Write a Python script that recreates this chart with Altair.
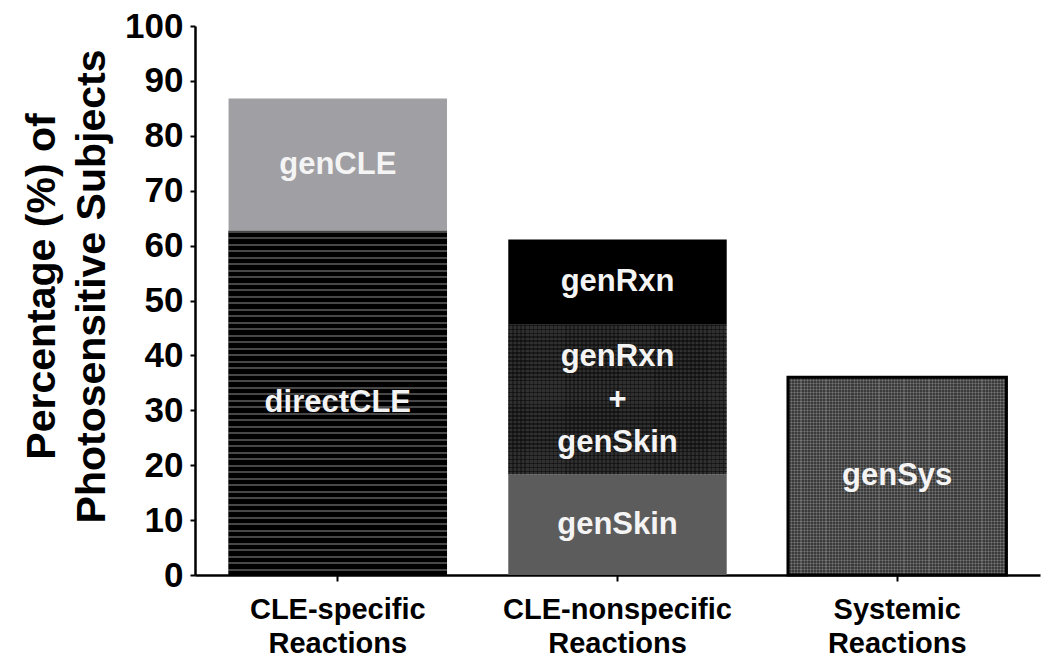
import altair as alt
import pandas as pd

# ---------------- data ----------------
categories = ["CLE-specific Reactions", "CLE-nonspecific Reactions", "Systemic Reactions"]
segment_category = [
    "CLE-specific Reactions", "CLE-specific Reactions",
    "CLE-nonspecific Reactions", "CLE-nonspecific Reactions", "CLE-nonspecific Reactions",
    "Systemic Reactions",
]
segment_name = ["directCLE", "genCLE", "genSkin", "genRxn + genSkin", "genRxn", "genSys"]
segment_label = ["directCLE", "genCLE", "genSkin", "genRxn\n+\ngenSkin", "genRxn", "genSys"]
segment_start = [0.0, 62.7, 0.0, 18.3, 45.6, 0.0]
segment_end = [62.7, 86.8, 18.3, 45.6, 61.1, 36.0]
y_ticks = [0, 10, 20, 30, 40, 50, 60, 70, 80, 90, 100]

# ---------------- styles ----------------
segment_colors = ["#000000", "#a0a0a4", "#5c5c5c", "#303030", "#000000", "#3a3a3a"]
FONT = "Liberation Sans"

df = pd.DataFrame({
    "category": segment_category,
    "segment": segment_name,
    "label": segment_label,
    "start": segment_start,
    "end": segment_end,
})


def stripes(n, duty, on, off, vertical=False):
    stops = []
    for i in range(n):
        a = i / n
        b = (i + duty) / n
        c = (i + 1) / n
        stops += [
            alt.GradientStop(offset=round(a, 5), color=on),
            alt.GradientStop(offset=round(b, 5), color=on),
            alt.GradientStop(offset=round(b, 5), color=off),
            alt.GradientStop(offset=round(c, 5), color=off),
        ]
    if vertical:
        return alt.LinearGradient(gradient="linear", stops=stops, x1=0, y1=0, x2=1, y2=0)
    return alt.LinearGradient(gradient="linear", stops=stops, x1=0, y1=0, x2=0, y2=1)


x_enc = alt.X(
    "category:N",
    sort=categories,
    scale=alt.Scale(domain=categories, paddingInner=0.219, paddingOuter=0.12),
    axis=alt.Axis(
        title=None,
        labelExpr="split(datum.label, ' ')",
        labelAngle=0,
        labelLimit=0,
        labelFont=FONT,
        labelFontSize=29,
        labelFontWeight="bold",
        labelColor="#000000",
        labelLineHeight=34,
        labelBaseline="top",
        labelPadding=14,
        tickSize=6,
        tickWidth=2,
        tickColor="#000000",
        domainColor="#000000",
        domainWidth=2.5,
        grid=False,
    ),
)

y_enc = alt.Y(
    "start:Q",
    scale=alt.Scale(domain=[0, 100], nice=False),
    axis=alt.Axis(
        values=y_ticks,
        title=["Percentage (%) of", "Photosensitive Subjects"],
        titleFont=FONT,
        titleFontSize=41,
        titleFontWeight="bold",
        titleColor="#000000",
        titleAngle=-90,
        titleAlign="center",
        titleBaseline="middle",
        titleLineHeight=50,
        titleX=-153,
        titleY=260,
        labelFont=FONT,
        labelFontSize=35,
        labelFontWeight="bold",
        labelColor="#000000",
        labelPadding=7,
        tickSize=5,
        tickWidth=2,
        tickColor="#000000",
        domainColor="#000000",
        domainWidth=2.5,
        grid=False,
    ),
)

base = alt.Chart(df)
xc = alt.X("category:N", sort=categories)

bars = base.mark_bar().encode(
    x=x_enc,
    y=y_enc,
    y2="end:Q",
    color=alt.Color(
        "segment:N",
        scale=alt.Scale(domain=segment_name, range=segment_colors),
        legend=None,
    ),
)

direct_stripes = base.transform_filter(alt.datum.segment == "directCLE").mark_bar(
    color=stripes(53, 0.32, "#474747", "#000000")
).encode(x=xc, y="start:Q", y2="end:Q")

mixed_dots_h = base.transform_filter(alt.datum.segment == "genRxn + genSkin").mark_bar(
    color=stripes(38, 0.4, "rgba(0,0,0,0.45)", "rgba(0,0,0,0)")
).encode(x=xc, y="start:Q", y2="end:Q")

mixed_dots_v = base.transform_filter(alt.datum.segment == "genRxn + genSkin").mark_bar(
    color=stripes(54, 0.4, "rgba(0,0,0,0.35)", "rgba(0,0,0,0)", vertical=True)
).encode(x=xc, y="start:Q", y2="end:Q")

sys_h = base.transform_filter(alt.datum.segment == "genSys").mark_bar(
    color=stripes(66, 0.35, "rgba(255,255,255,0.16)", "rgba(255,255,255,0)")
).encode(x=xc, y="start:Q", y2="end:Q")

sys_v = base.transform_filter(alt.datum.segment == "genSys").mark_bar(
    color=stripes(70, 0.35, "rgba(255,255,255,0.16)", "rgba(255,255,255,0)", vertical=True),
    stroke="#000000",
    strokeWidth=3,
).encode(x=xc, y="start:Q", y2="end:Q")

text_style = dict(
    font=FONT,
    fontSize=31,
    fontWeight="bold",
    color="#f4f4f4",
    align="center",
    baseline="middle",
    lineBreak="\n",
    lineHeight=43,
)

labels_single = base.transform_filter(
    "indexof(datum.label, '\\n') < 0"
).transform_calculate(mid="(datum.start + datum.end) / 2").mark_text(**text_style).encode(
    x=xc, y="mid:Q", text="label:N"
)

labels_multi = base.transform_filter(
    "indexof(datum.label, '\\n') >= 0"
).transform_calculate(mid="(datum.start + datum.end) / 2").mark_text(dy=-43, **text_style).encode(
    x=xc, y="mid:Q", text="label:N"
)

chart = alt.layer(
    bars, direct_stripes, mixed_dots_h, mixed_dots_v, sys_h, sys_v, labels_single, labels_multi
).properties(
    width=845,
    height=549,
    autosize=alt.AutoSizeParams(type="none"),
    padding={"left": 187, "top": 18, "right": 2, "bottom": 86},
    background="#ffffff",
).configure_view(stroke=None)

chart.save("out.html", embed_options={"renderer": "svg", "actions": False})
